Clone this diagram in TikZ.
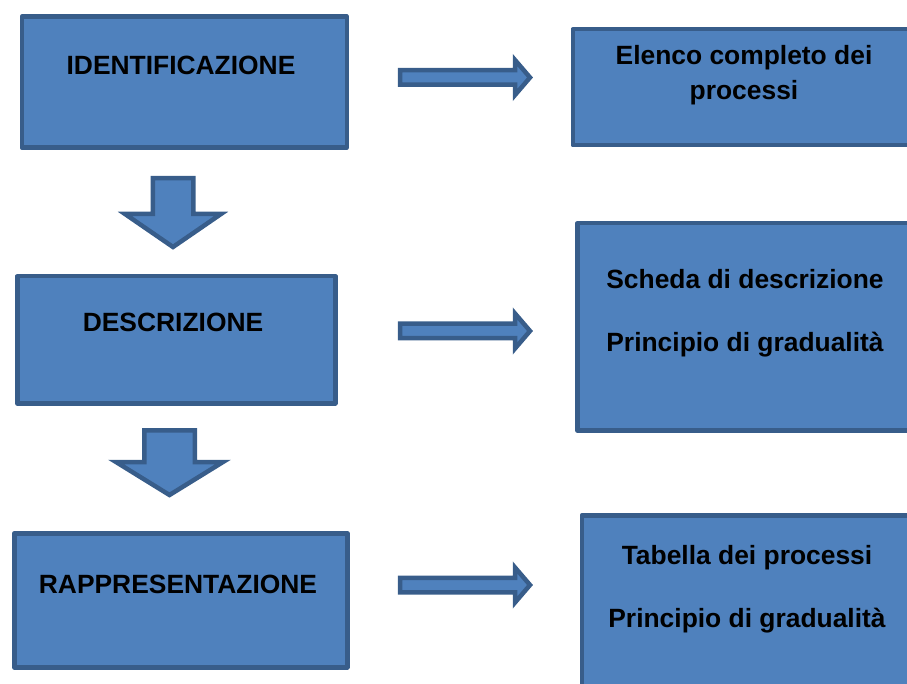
\documentclass[tikz,border=0pt]{standalone}
\usepackage{fontspec}
\setmainfont{Liberation Sans}
\definecolor{boxfill}{HTML}{4F81BD}
\definecolor{boxline}{HTML}{385D8A}
\begin{document}
\begin{tikzpicture}[x=1pt,y=-1pt,
  box/.style={draw=boxline, fill=boxfill, line width=4.5pt, rectangle, anchor=north west, inner sep=0pt, line join=round},
  blk/.style={draw=boxline, fill=boxfill, line width=4.5pt, line join=miter},
  txt/.style={font=\fontsize{26.4}{31.5}\selectfont\bfseries, anchor=base, inner sep=0pt}]
\useasboundingbox (0,0) rectangle (907,684);
\clip (0,0) rectangle (907,684);
% left boxes
\node[box, minimum width=325pt, minimum height=131pt] (b1) at (19.5,14.5) {};
\node[box, minimum width=318pt, minimum height=127pt] (b2) at (15,274) {};
\node[box, minimum width=333pt, minimum height=134pt] (b3) at (12,531) {};
% right boxes
\node[box, minimum width=400pt, minimum height=116pt] (r1) at (570.5,27) {};
\node[box, minimum width=400pt, minimum height=207pt] (r2) at (575,221) {};
\node[box, minimum width=400pt, minimum height=200pt] (r3) at (579.5,513) {};
% texts
\node[txt] (t1) at (181,74.5) {IDENTIFICAZIONE};
\node[txt] (t2) at (173,332) {DESCRIZIONE};
\node[txt] (t3) at (178,593) {RAPPRESENTAZIONE};
\node[txt] (t4) at (744,65) {Elenco completo dei};
\node[txt] (t5) at (744,100) {processi};
\node[txt] (t6) at (745,289) {Scheda di descrizione};
\node[txt] (t7) at (745,352) {Principio di gradualità};
\node[txt] (t8) at (747,564) {Tabella dei processi};
\node[txt] (t9) at (747,627) {Principio di gradualità};
% down block arrows
\draw[blk] (152.75,178.25) -- (193.25,178.25) -- (193.25,214) -- (221,214) -- (173,247)
  -- (125,214) -- (152.75,214) -- cycle;
\draw[blk] (144.25,430.25) -- (194.75,430.25) -- (194.75,462) -- (223,462) -- (169.5,495)
  -- (116,462) -- (144.25,462) -- cycle;
% right block arrows
\foreach \yc/\nm in {77.5/ra1, 331/ra2, 585/ra3}{
  \coordinate (\nm) at (400,\yc);
  \draw[blk] (\nm) ++(0,-7.25) -- ++(115,0) -- ++(0,-10.25) -- ++(15,17.5)
    -- ++(-15,17.5) -- ++(0,-10.25) -- ++(-115,0) -- cycle;
}
\end{tikzpicture}
\end{document}
